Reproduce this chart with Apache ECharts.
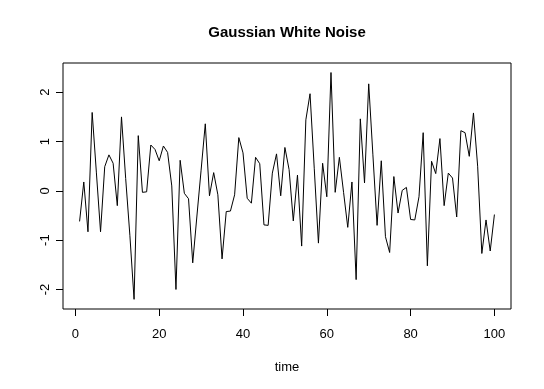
<!DOCTYPE html>
<html lang="en">
<head>
    <meta charset="UTF-8">
    <title>Gaussian White Noise</title>
    <script src="https://cdn.jsdelivr.net/npm/echarts@6/dist/echarts.min.js"></script>
    <style>
        html, body { margin: 0; padding: 0; background: #fff; }
    </style>
</head>
<body>
<div id="noise-chart" style="width: 544px;height:389px;"></div>
</body>
<script>
    // white noise values, t = 1..100
    var noise = [
        -0.62, 0.18, -0.83, 1.59, 0.38, -0.83, 0.49, 0.73, 0.56, -0.30,
        1.50, 0.25, -0.90, -2.20, 1.12, -0.03, -0.02, 0.93, 0.84, 0.61,
        0.91, 0.78, 0.10, -2.00, 0.62, -0.05, -0.16, -1.46, -0.51, 0.42,
        1.36, -0.10, 0.37, -0.08, -1.38, -0.42, -0.41, -0.08, 1.08, 0.77,
        -0.15, -0.25, 0.68, 0.55, -0.69, -0.70, 0.36, 0.75, -0.10, 0.88,
        0.43, -0.61, 0.32, -1.12, 1.44, 1.97, 0.46, -1.06, 0.56, -0.12,
        2.40, -0.03, 0.68, -0.03, -0.74, 0.18, -1.80, 1.46, 0.16, 2.17,
        0.73, -0.70, 0.61, -0.93, -1.25, 0.29, -0.45, 0.01, 0.07, -0.58,
        -0.59, -0.12, 1.18, -1.52, 0.60, 0.35, 1.06, -0.30, 0.36, 0.26,
        -0.53, 1.22, 1.18, 0.70, 1.58, 0.50, -1.27, -0.59, -1.22, -0.48
    ];
    var xTicks = [0, 20, 40, 60, 80, 100];
    var yTicks = [-2, -1, 0, 1, 2];

    var points = noise.map(function (v, i) {
        return [i + 1, v];
    });

    var font = 'Liberation Sans, Arial, sans-serif';

    echarts.init(document.getElementById('noise-chart')).setOption({
        animation: false,
        title: {
            text: 'Gaussian White Noise',
            left: 282,
            top: 20,
            textAlign: 'center',
            textStyle: {
                fontFamily: font,
                fontSize: 15,
                fontWeight: 'bold',
                color: '#000'
            }
        },
        grid: {
            left: 63,
            right: 33,
            top: 63,
            bottom: 80,
            show: true,
            borderColor: '#000',
            borderWidth: 1
        },
        xAxis: {
            type: 'value',
            min: -2.96,
            max: 103.96,
            name: 'time',
            nameLocation: 'middle',
            nameGap: 52,
            nameTextStyle: { fontFamily: font, fontSize: 13, color: '#000' },
            axisLine: { show: false, onZero: false },
            axisTick: {
                show: true,
                length: 7,
                customValues: xTicks,
                lineStyle: { color: '#000' }
            },
            axisLabel: {
                customValues: xTicks,
                margin: 19,
                fontFamily: font,
                fontSize: 13,
                color: '#000'
            },
            splitLine: { show: false }
        },
        yAxis: {
            type: 'value',
            min: -2.396,
            max: 2.593,
            axisLine: { show: false, onZero: false },
            axisTick: {
                show: true,
                length: 7,
                customValues: yTicks,
                lineStyle: { color: '#000' }
            },
            axisLabel: {
                customValues: yTicks,
                rotate: 90,
                margin: 11,
                fontFamily: font,
                fontSize: 13,
                color: '#000'
            },
            splitLine: { show: false }
        },
        series: [
            {
                type: 'line',
                data: points,
                showSymbol: false,
                lineStyle: { color: '#000', width: 1 }
            }
        ]
    });
</script>
</html>
